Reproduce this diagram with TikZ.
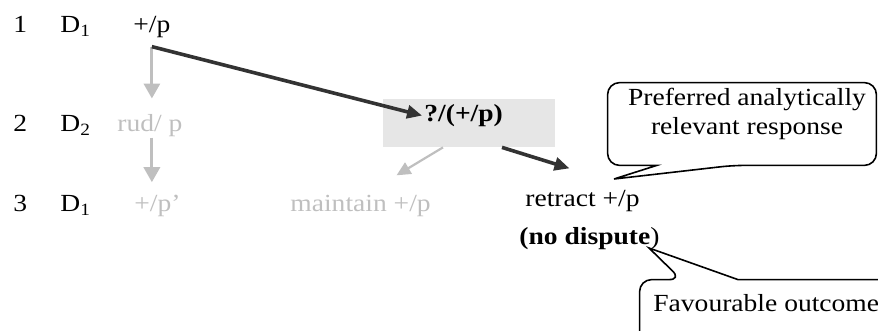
\documentclass[tikz,border=0pt]{standalone}
\usepackage{fontspec}
\setmainfont{Liberation Serif}[FakeStretch=1.12]
\usetikzlibrary{arrows.meta,calc}

\definecolor{darkline}{HTML}{333333}
\definecolor{fadegray}{HTML}{BFBFBF}
\definecolor{qfill}{HTML}{E6E6E6}

\begin{document}
\begin{tikzpicture}[
  x=0.5pt, y=-0.5pt,
  every node/.style={inner sep=0pt, font=\fontsize{12.3}{14.5}\selectfont},
  lbl/.style={anchor=base west},
  faint/.style={lbl, text=fadegray},
  qbox/.style={fill=qfill, minimum width=86pt, minimum height=24pt},
  callbox/.style={minimum width=134pt, minimum height=41pt},
  callout/.style={draw, line width=0.8pt, rounded corners=6pt},
  arrow/.style={-{Triangle[length=7.5pt,width=6.5pt]}, line width=1.8pt, draw=darkline},
  greyarrow/.style={-{Triangle[length=7.5pt,width=8pt]}, line width=1.6pt, draw=fadegray},
  thingrey/.style={-{Triangle[length=7pt,width=6.5pt]}, line width=1.1pt, draw=fadegray}
]
\useasboundingbox (0,0) rectangle (878,331);
\clip (0,0) rectangle (878,331);

% turn numbers and speakers
\node[lbl] (n1) at (13,33) {1};
\node[lbl] (n2) at (13,132) {2};
\node[lbl] (n3) at (13,212) {3};
\node[lbl] (d1) at (60,33) {D\textsubscript{1}};
\node[lbl] (d2) at (60,132) {D\textsubscript{2}};
\node[lbl] (d3) at (60,212) {D\textsubscript{1}};

% moves
\node[lbl] (p1) at (133,33) {+/p};
\node[faint] (rud) at (117,132) {rud/ p};
\node[faint] (p3) at (134,212) {+/p’};
\node[faint] (keep) at (290,212) {maintain +/p};
\node[qbox] (qbox) at (469,123) {};
\node[lbl, font=\fontsize{12.3}{14.5}\selectfont\bfseries] (q) at (424,122) {?/(+/p)};
\node[lbl] (retract) at (525,207) {retract +/p};
\node[lbl] (nodisp) at (519,245) {\textbf{(no dispute})};

% callouts
\node[callbox] (pref) at (742,124) {};
\node[align=center] (preftxt) at (747,114) {Preferred analytically\\relevant response};
\coordinate (preftip) at (614,179);
\node[callbox, minimum width=130pt, minimum height=40pt] (fav) at (770,320) {};
\node[lbl] (favtxt) at (653,312) {Favourable outcome};
\coordinate (favtip) at (649,248);

\coordinate (p1b) at ([yshift=-4pt]p1.south);
\draw[greyarrow, shorten >=8pt] (p1b) -- (p1b |- rud.north);
\draw[greyarrow, shorten >=6.5pt] (p1b |- rud.south) -- (p1b |- p3.north);
\draw[arrow, shorten >=1pt] (p1b) -- (q.west);
\draw[arrow] ([xshift=16.5pt]qbox.south) -- ([shift={(-6.5pt,11pt)}]retract.north);
\draw[thingrey] ([xshift=-13pt]qbox.south) -- ([shift={(18pt,10pt)}]keep.north);

\draw[callout] ($(pref.south west)!0.183!(pref.south east)$) -- (pref.south west)
  -- (pref.north west) -- (pref.north east) -- (pref.south east)
  -- ($(pref.south west)!0.466!(pref.south east)$) [sharp corners] -- (preftip) -- cycle;
\draw[line width=0.8pt] ($(fav.north west)!0.16!(fav.north east)$) -- (favtip)
  -- ($(fav.north west)!0.377!(fav.north east)$) [rounded corners=6pt] -- (fav.north east)
  -- (fav.south east) -- (fav.south west) -- (fav.north west) -- cycle;
\end{tikzpicture}
\end{document}
